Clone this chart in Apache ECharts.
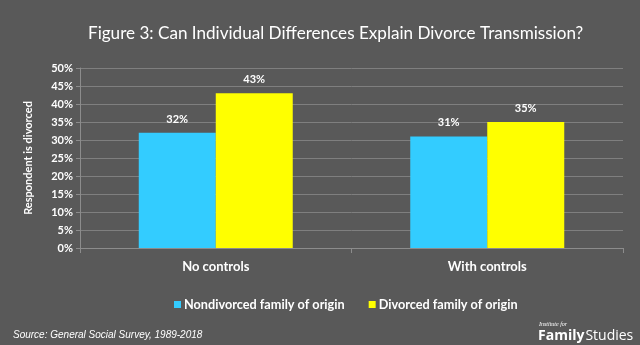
<!DOCTYPE html>
<html><head><meta charset="utf-8">
<script src="https://cdn.jsdelivr.net/npm/echarts@6/dist/echarts.min.js"></script>
<style>html,body{margin:0;padding:0;background:#595959}#c{width:640px;height:345px}</style>
</head><body><div id="c"></div>
<script>
const categories = ["No controls", "With controls"];
const nondivorced = [32, 31];
const divorced = [43, 35];
const seriesNames = ["Nondivorced family of origin", "Divorced family of origin"];
const yTicks = [0, 5, 10, 15, 20, 25, 30, 35, 40, 45, 50];
const FONT = "Lato, 'Open Sans', sans-serif";
const chart = echarts.init(document.getElementById('c'), null, {renderer: 'canvas'});
chart.setOption({
  backgroundColor: '#595959',
  animation: false,
  title: [{
    text: 'Figure 3: Can Individual Differences Explain Divorce Transmission?',
    left: 83, top: 20,
    textStyle: {color: '#ffffff', fontSize: 17.1, fontWeight: 'normal', fontFamily: FONT}
  }, {
    text: 'Source: General Social Survey, 1989-2018',
    left: 8, top: 325,
    textStyle: {color: '#ffffff', fontSize: 10, fontStyle: 'italic', fontWeight: 'normal', fontFamily: "'Liberation Sans', Arial, sans-serif"}
  }, {
    text: 'Institute for',
    left: 534, top: 316,
    textStyle: {color: '#ffffff', fontSize: 6, fontStyle: 'italic', fontWeight: 'normal', fontFamily: "'Liberation Serif', serif"}
  }, {
    text: '{a|Family}{b|Studies}',
    left: 533, top: 324,
    textStyle: {rich: {
      a: {color: '#ffffff', fontSize: 14, fontWeight: 'bold', fontFamily: "'Open Sans', sans-serif"},
      b: {color: '#ffffff', fontSize: 14, fontWeight: 'normal', fontFamily: "'Open Sans', sans-serif", padding: [0,0,0,1]}
    }}
  }],
  legend: {
    data: seriesNames,
    top: 293, left: 169,
    itemWidth: 7, itemHeight: 7, itemGap: 24,
    icon: 'rect',
    textStyle: {color: '#ffffff', fontSize: 12.7, fontWeight: 'bold', fontFamily: FONT, padding: [0,0,0,-2]}
  },
  grid: {left: 80, right: 17, top: 68, bottom: 97, containLabel: false},
  xAxis: {
    type: 'category', data: categories,
    axisLine: {lineStyle: {color: '#8c8c8c', width: 1}},
    axisTick: {show: true, length: 5, lineStyle: {color: '#8c8c8c'}},
    axisLabel: {color: '#ffffff', fontSize: 13, fontWeight: 'bold', fontFamily: FONT, margin: 12}
  },
  yAxis: {
    type: 'value', min: 0, max: 50, interval: 5,
    name: 'Respondent is divorced', nameLocation: 'middle', nameGap: 46, nameRotate: 90,
    nameTextStyle: {color: '#ffffff', fontSize: 11, fontWeight: 'bold', fontFamily: FONT},
    axisLine: {show: true, lineStyle: {color: '#8c8c8c'}},
    axisTick: {show: true, length: 4, lineStyle: {color: '#8c8c8c'}},
    axisLabel: {color: '#ffffff', fontSize: 11, fontWeight: 'bold', fontFamily: FONT, margin: 7,
      formatter: v => yTicks.includes(v) ? v + '%' : ''},
    splitLine: {lineStyle: {color: '#7f7f7f', width: 1}}
  },
  series: [{
    name: seriesNames[0], type: 'bar', data: nondivorced,
    barWidth: 77, barGap: '0%',
    itemStyle: {color: '#33ccff'},
    label: {show: true, position: 'top', distance: 8, formatter: '{c}%', color: '#ffffff', fontSize: 11, fontWeight: 'bold', fontFamily: FONT}
  }, {
    name: seriesNames[1], type: 'bar', data: divorced,
    barWidth: 77, barGap: '0%',
    itemStyle: {color: '#ffff00'},
    label: {show: true, position: 'top', distance: 8, formatter: '{c}%', color: '#ffffff', fontSize: 11, fontWeight: 'bold', fontFamily: FONT}
  }]
});
</script></body></html>
